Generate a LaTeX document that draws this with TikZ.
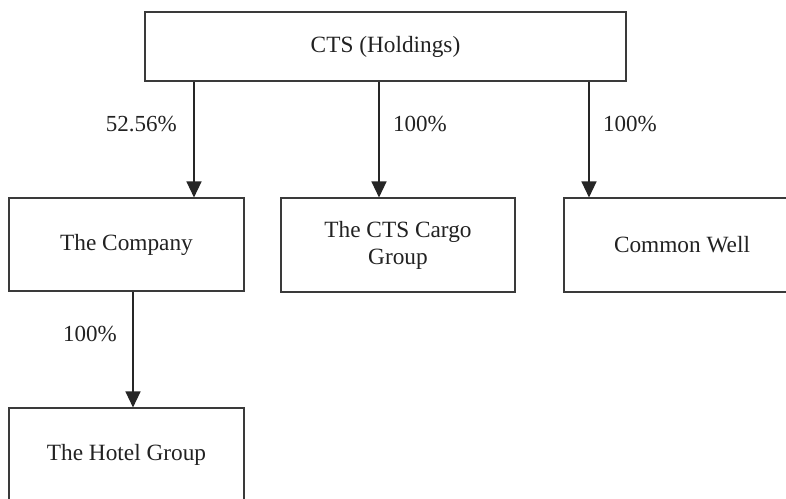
\documentclass[tikz,border=0pt]{standalone}
\usepackage{fontspec}
\setmainfont{Liberation Serif}
\usetikzlibrary{arrows.meta}
\definecolor{boxline}{HTML}{3A3A3A}
\definecolor{txt}{HTML}{222222}
\tikzset{
  orgbox/.style={draw=boxline, line width=1.1pt, fill=white, inner sep=0pt, text=txt,
    font=\fontsize{23.3}{27}\selectfont, align=center},
  arr/.style={draw=black!85, line width=1.3pt, -{Triangle[width=15pt,length=16pt]}},
  pct/.style={inner sep=0pt, text=txt, font=\fontsize{23}{27}\selectfont}
}
\begin{document}
\begin{tikzpicture}[x=1pt,y=-1pt]
\clip (0,0) rectangle (786,498);
\fill[white] (0,0) rectangle (786,498);
\node[orgbox, minimum width=481pt, minimum height=69pt] (cts) at (385.5,46.5) {CTS (Holdings)};
\node[orgbox, minimum width=235pt, minimum height=93pt] (company) at (126.5,244.5) {The Company};
\node[orgbox, minimum width=234pt, minimum height=94pt] (cargo) at (398,245) {The CTS Cargo\\Group};
\node[orgbox, minimum width=236pt, minimum height=94pt] (common) at (682,245) {Common Well};
\node[orgbox, minimum width=235pt, minimum height=93pt] (hotel) at (126.5,454.5) {The Hotel Group};
\coordinate (xa) at (194,0);
\coordinate (xb) at (379,0);
\coordinate (xc) at (589,0);
\coordinate (xd) at (133,0);
\draw[arr] (cts.south -| xa) -- (company.north -| xa);
\draw[arr] (cts.south -| xb) -- (cargo.north -| xb);
\draw[arr] (cts.south -| xc) -- (common.north -| xc);
\draw[arr] (company.south -| xd) -- (hotel.north -| xd);
\node[pct, anchor=base east] (l1) at (177,131) {52.56\%};
\node[pct, anchor=base west] (l2) at (393,131) {100\%};
\node[pct, anchor=base west] (l3) at (603,131) {100\%};
\node[pct, anchor=base east] (l4) at (117,341) {100\%};
\end{tikzpicture}
\end{document}
